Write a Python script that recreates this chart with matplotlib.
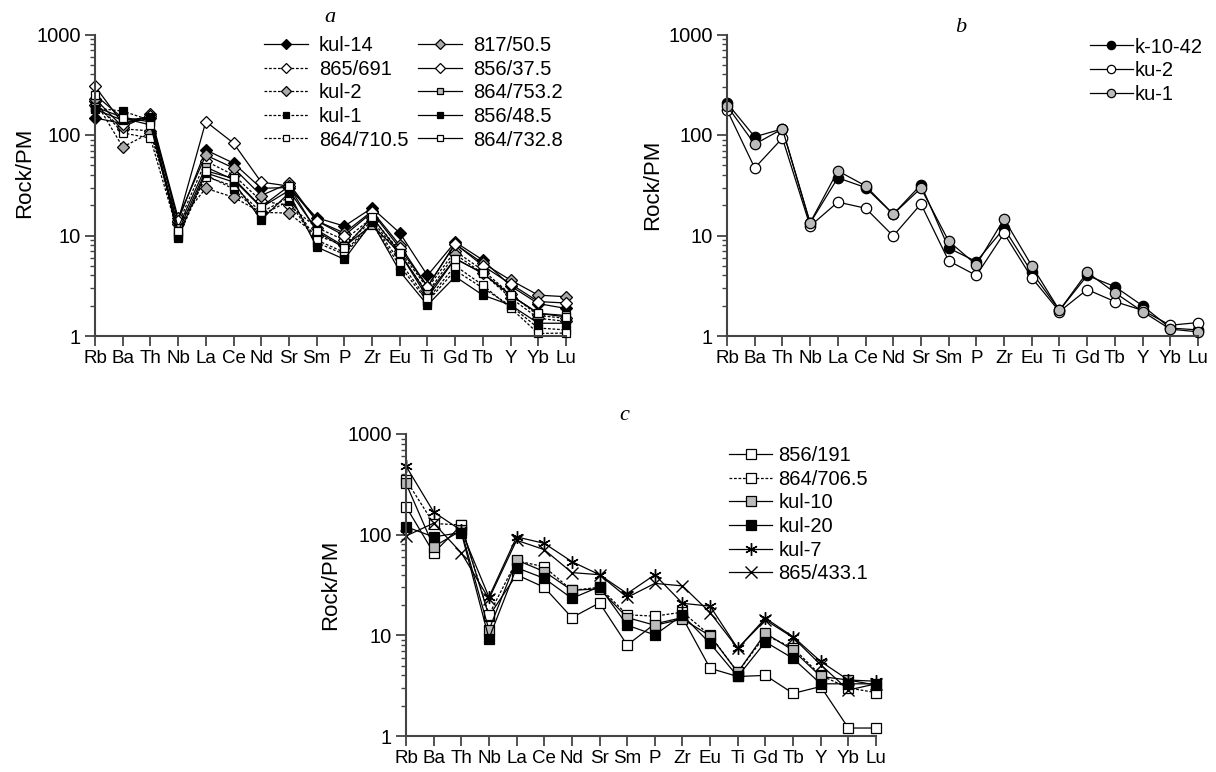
import matplotlib
matplotlib.use("Agg")
import matplotlib.pyplot as plt

plt.rcParams['font.family'] = ['Liberation Sans', 'DejaVu Sans']

elements = ['Rb', 'Ba', 'Th', 'Nb', 'La', 'Ce', 'Nd', 'Sr', 'Sm', 'P',
            'Zr', 'Eu', 'Ti', 'Gd', 'Tb', 'Y', 'Yb', 'Lu']
ytick_vals = [1, 10, 100, 1000]
ytick_labels = ['1', '10', '100', '1000']

# panel a
a_names = ['kul-14', '865/691', 'kul-2', 'kul-1', '864/710.5',
           '817/50.5', '856/37.5', '864/753.2', '856/48.5', '864/732.8']
a_kul14 = [148, 130, 147, 14, 71, 52.5, 29.5, 30, 15, 12.4, 18.8, 10.6, 4.0, 8.6, 5.7, 3.15, 2.1, 1.88]
a_865_691 = [200, 115, 110, 13, 55, 40, 22, 20, 12, 9, 15, 7, 3.0, 7, 4.5, 2.6, 1.6, 1.5]
a_kul2 = [220, 76, 105, 13.5, 29.5, 24, 17, 16.7, 10, 8, 14, 6.5, 2.7, 6.5, 4.2, 2.4, 1.5, 1.4]
a_kul1 = [185, 173, 140, 9.5, 40, 29, 16, 22, 8.5, 6.5, 13, 5, 2.2, 4.5, 3.0, 2.0, 1.2, 1.15]
a_864_7105 = [210, 105, 93, 10.5, 38.5, 31, 17, 24, 9, 6.8, 13.5, 5.5, 2.3, 5, 3.2, 1.9, 1.06, 1.07]
a_817_505 = [230, 120, 160, 15, 63, 47, 25, 33, 14, 10.6, 17.5, 8.0, 3.1, 8.2, 5.3, 3.6, 2.55, 2.46]
a_856_375 = [306, 130, 155, 14, 136, 83, 34, 31, 14, 10, 17, 7.5, 3.1, 8.3, 5.0, 3.3, 2.2, 2.13]
a_864_7532 = [190, 150, 135, 12, 48, 36, 19, 28, 11.4, 7.8, 12.7, 6.7, 2.6, 5.9, 4.2, 2.55, 1.68, 1.6]
a_856_485 = [180, 140, 150, 9.8, 42, 34, 14.3, 26.5, 7.7, 5.8, 13.5, 4.4, 2.03, 3.9, 2.55, 2.03, 1.34, 1.34]
a_864_7328 = [251, 147, 126, 11, 44, 37, 19.3, 31, 11, 7.5, 15.3, 6.7, 2.4, 5.9, 4.2, 2.55, 1.68, 1.55]
a_values = [a_kul14, a_865_691, a_kul2, a_kul1, a_864_7105,
            a_817_505, a_856_375, a_864_7532, a_856_485, a_864_7328]

# panel b
b_names = ['k-10-42', 'ku-2', 'ku-1']
b_k1042 = [208, 96, 115, 13.3, 37.5, 30, 16.3, 32, 7.5, 5.5, 11.8, 4.3, 1.8, 4.0, 3.1, 2.0, 1.2, 1.15]
b_ku2 = [178, 47, 93, 12.4, 21.5, 18.7, 9.9, 20.6, 5.6, 4.0, 10.5, 3.8, 1.75, 2.9, 2.2, 1.8, 1.28, 1.36]
b_ku1 = [195, 81, 115, 13.4, 44, 31.2, 16.3, 29.6, 8.8, 5.1, 14.6, 5.0, 1.8, 4.3, 2.7, 1.75, 1.17, 1.1]
b_values = [b_k1042, b_ku2, b_ku1]

# panel c
c_names = ['856/191', '864/706.5', 'kul-10', 'kul-20', 'kul-7', '865/433.1']
c_856_191 = [190, 66, 124, 15.5, 40, 30, 15, 21, 8, 13, 15, 4.7, 3.9, 4.0, 2.65, 3.1, 1.2, 1.2]
c_864_7065 = [350, 129, 125, 16, 55, 48, 28, 30, 16, 15.5, 17, 10, 4.3, 10, 7.5, 4.0, 3.0, 2.7]
c_kul10 = [323, 76, 110, 11.3, 56, 43, 28, 29, 15, 12.6, 14.5, 9.9, 4.3, 10.5, 7.1, 3.9, 3.6, 3.2]
c_kul20 = [120, 95, 105, 9.3, 47, 36.8, 23.3, 30.4, 12.6, 10.1, 15.9, 8.3, 3.9, 8.6, 5.9, 3.3, 3.3, 3.3]
c_kul7 = [480, 168, 110, 24, 95, 82, 54, 40, 26, 40, 20.8, 19.5, 7.4, 14.8, 9.7, 5.5, 3.6, 3.5]
c_865_4331 = [97, 130, 66, 23, 88, 71, 42, 40, 23.8, 32.8, 31, 16.8, 7.4, 14.2, 9.5, 5.1, 2.86, 3.3]
c_values = [c_856_191, c_864_7065, c_kul10, c_kul20, c_kul7, c_865_4331]

dash = (0, (2.2, 1.4))
asterisk = (6, 2, 0)
a_styles = [('D', 'black', '-'), ('D', 'white', dash), ('D', '#aaaaaa', dash),
            ('s', 'black', dash), ('s', 'white', dash),
            ('D', '#aaaaaa', '-'), ('D', 'white', '-'), ('s', '#bbbbbb', '-'),
            ('s', 'black', '-'), ('s', 'white', '-')]
b_styles = [('o', 'black', '-'), ('o', 'white', '-'), ('o', '#bbbbbb', '-')]
c_styles = [('s', 'white', '-'), ('s', 'white', dash), ('s', '#bbbbbb', '-'),
            ('s', 'black', '-'), (asterisk, 'black', '-'), ('x', 'black', '-')]

axis_col = '#444444'
fig = plt.figure(figsize=(12.16, 7.72), dpi=100)
W, H = 1216, 772


def make_axes(left, top, right, bottom):
    return fig.add_axes([left / W, 1 - bottom / H, (right - left) / W, (bottom - top) / H])


def style_axes(ax, label_x, label_y):
    x = list(range(len(elements)))
    ax.set_yscale('log')
    ax.set_ylim(1, 1000)
    ax.set_xlim(0, len(elements) - 1)
    ax.set_xticks(x)
    ax.set_xticklabels(elements, fontsize=13.5)
    ax.set_yticks(ytick_vals)
    ax.set_yticklabels(ytick_labels, fontsize=14.5)
    for s in ['top', 'right']:
        ax.spines[s].set_visible(False)
    for s in ['left', 'bottom']:
        ax.spines[s].set_color(axis_col)
        ax.spines[s].set_linewidth(1.5)
    ax.tick_params(which='major', direction='out', length=7, width=1.3, color=axis_col, pad=3)
    ax.tick_params(which='minor', direction='out', length=3.5, width=1.0, color=axis_col)
    ax.tick_params(axis='x', which='minor', length=0)
    ax.set_ylabel('Rock/PM', fontsize=16)
    ax.yaxis.set_label_coords(label_x, label_y)


def draw_series(ax, names, values, styles, ms, lw=0.9):
    x = list(range(len(elements)))
    for name, vals, (mk, fc, ls) in zip(names, values, styles):
        if mk == 'x' or mk == asterisk:
            ax.plot(x, vals, linestyle=ls, color='black', lw=lw, marker=mk,
                    markersize=ms + 2, markeredgewidth=1.0, label=name, clip_on=False)
        else:
            ax.plot(x, vals, linestyle=ls, color='black', lw=lw, marker=mk,
                    markerfacecolor=fc, markeredgecolor='black', markeredgewidth=0.9,
                    markersize=ms, label=name, clip_on=False)


leg_font = 14.5

# panel a
ax_a = make_axes(95, 34.5, 566, 336)
draw_series(ax_a, a_names, a_values, a_styles, ms=6)
style_axes(ax_a, -0.127, 0.54)
ax_a.legend(ncol=2, loc='upper left', bbox_to_anchor=(0.358, 0.995), frameon=False,
            fontsize=leg_font, handlelength=2.2, handletextpad=0.55, columnspacing=0.45,
            labelspacing=0.23, borderpad=0, borderaxespad=0, markerscale=0.8)
fig.text(330 / W, 1 - 17 / H, 'a', fontsize=16, style='italic',
         family='Liberation Serif', ha='center', va='center')

# panel b
ax_b = make_axes(727, 34.5, 1198, 336)
draw_series(ax_b, b_names, b_values, b_styles, ms=7.5)
style_axes(ax_b, -0.136, 0.5)
ax_b.legend(loc='upper left', bbox_to_anchor=(0.77, 0.99), frameon=False,
            fontsize=leg_font, handlelength=2.15, handletextpad=0.1,
            labelspacing=0.23, borderpad=0, borderaxespad=0, markerscale=0.8)
fig.text(961 / W, 1 - 27 / H, 'b', fontsize=16, style='italic',
         family='Liberation Serif', ha='center', va='center')

# panel c
ax_c = make_axes(406, 434, 876, 736)
draw_series(ax_c, c_names, c_values, c_styles, ms=7)
style_axes(ax_c, -0.138, 0.5)
ax_c.legend(loc='upper left', bbox_to_anchor=(0.687, 0.96), frameon=False,
            fontsize=leg_font, handlelength=2.15, handletextpad=0.3,
            labelspacing=0.23, borderpad=0, borderaxespad=0, markerscale=1.0)
fig.text(624 / W, 1 - 416 / H, 'c', fontsize=16, style='italic',
         family='Liberation Serif', ha='center', va='center')

fig.savefig('out.png', dpi=100)
